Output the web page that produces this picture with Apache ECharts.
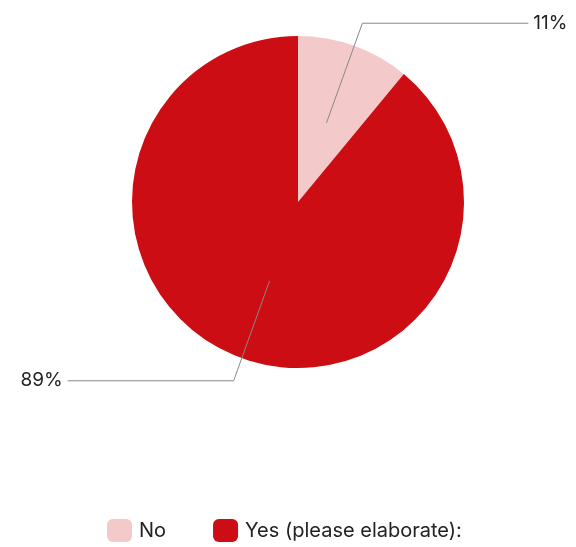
<!DOCTYPE html>
<html>
<head>
<meta charset="utf-8">
<script src="https://cdn.jsdelivr.net/npm/echarts@6/dist/echarts.min.js"></script>
<style>html,body{margin:0;padding:0;background:#fff}#c{width:576px;height:547px}</style>
</head>
<body>
<div id="c"></div>
<script>
const categories = ['No', 'Yes (please elaborate):'];
const values = [11, 89];
const colors = ['#f4c9ca', '#cc0d14'];

const data = categories.map((n, i) => ({ name: n, value: values[i], itemStyle: { color: colors[i] } }));
const chart = echarts.init(document.getElementById('c'));
chart.setOption({
  animation: false,
  textStyle: { fontFamily: 'Inter' },
  legend: {
    bottom: 0,
    left: 102,
    icon: 'roundRect',
    itemWidth: 25,
    itemHeight: 23,
    itemGap: 47,
    data: categories,
    textStyle: { fontSize: 20, color: '#222', fontFamily: 'Inter', padding: [0, 0, 0, 2] }
  },
  series: [
    {
      type: 'pie',
      z: 2,
      center: [298, 202],
      radius: [0, 166],
      startAngle: 90,
      clockwise: true,
      silent: true,
      label: { show: false },
      labelLine: { show: false },
      data: data
    },
    {
      type: 'pie',
      z: 5,
      center: [298, 202],
      radius: [0, 84],
      startAngle: 90,
      clockwise: true,
      silent: true,
      legendHoverLink: false,
      avoidLabelOverlap: false,
      itemStyle: { color: 'rgba(0,0,0,0)' },
      label: { show: true, formatter: '{d}%', fontSize: 19, color: '#222', fontFamily: 'Inter', distanceToLabelLine: 5, overflow: 'none', width: 60 },
      labelLine: { show: true, length: 106, length2: 166, lineStyle: { color: '#888', width: 1 } },
      data: categories.map((n, i) => ({ name: n, value: values[i], itemStyle: { color: 'rgba(0,0,0,0)' } }))
    }
  ]
});
</script>
</body>
</html>
